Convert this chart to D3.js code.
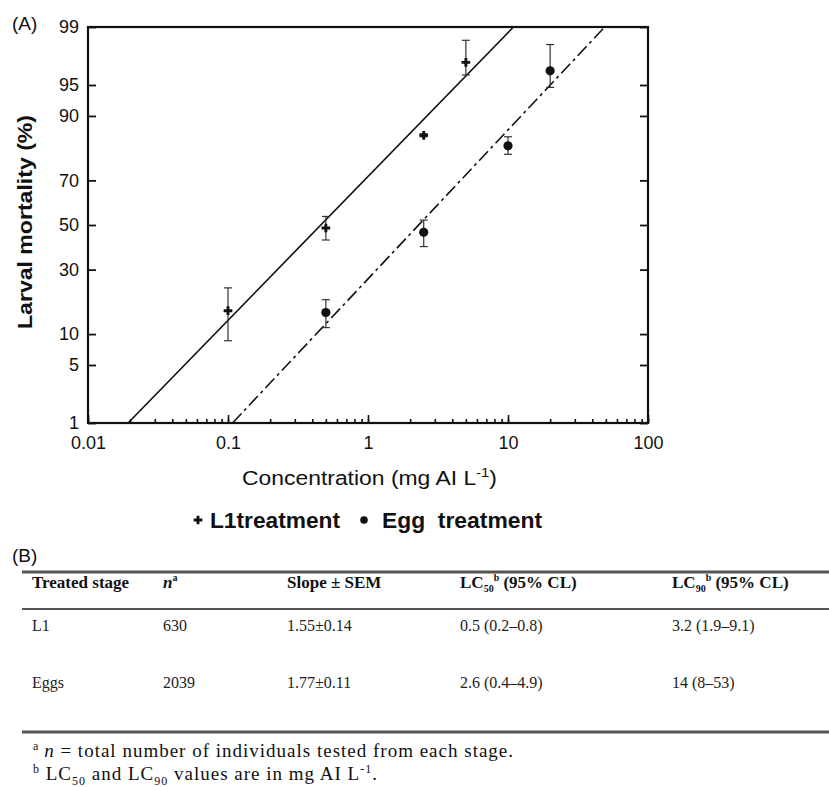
<!DOCTYPE html>
<html>
<head>
<meta charset="utf-8">
<script src="https://cdn.jsdelivr.net/npm/d3@7"></script>
<style>
body { margin: 0; background: #fff; }
svg text { font-family: "Liberation Sans", Arial, sans-serif; fill: #111; }
svg text.serif { font-family: "Liberation Serif", "Times New Roman", serif; }
</style>
</head>
<body>
<script>
const w = 829;
const h = 787;

// panel A: tick labels
const xTickLabels = ["0.01", "0.1", "1", "10", "100"];
const yTickLabels = [1, 5, 10, 30, 50, 70, 90, 95, 99];
const legendNames = ["L1treatment", "Egg  treatment"];

// L1 treatment (mortality %, with error bar ends)
const l1Conc = [0.1, 0.5, 2.5, 5];
const l1Mort = [15.7, 48.6, 85.4, 97.2];
const l1Low = [8.7, 43, 85.0, 96.1];
const l1High = [23, 54, 85.8, 98.5];

// Egg treatment
const eggConc = [0.5, 2.5, 10, 20];
const eggMort = [15.2, 46.6, 82.4, 96.5];
const eggLow = [11.4, 40, 79.7, 94.7];
const eggHigh = [19, 52.3, 85, 98.3];

// fitted probit lines as drawn (LC50, slope)
const fitLC50 = [0.46, 2.3];
const fitSlope = [1.69, 1.75];

// panel B: table
const stages = ["L1", "Eggs"];
const nTested = ["630", "2039"];
const slopes = ["1.55±0.14", "1.77±0.11"];
const lc50 = ["0.5 (0.2–0.8)", "2.6 (0.4–4.9)"];
const lc90 = ["3.2 (1.9–9.1)", "14 (8–53)"];

// inverse normal cdf (Acklam) for the probit axis
function probit(p) {
  const a = [-39.69683028665376, 220.9460984245205, -275.9285104469687, 138.3577518672690, -30.66479806614716, 2.506628277459239];
  const b = [-54.47609879822406, 161.5858368580409, -155.6989798598866, 66.80131188771972, -13.28068155288572];
  const c = [-0.007784894002430293, -0.3223964580411365, -2.400758277161838, -2.549732539343734, 4.374664141464968, 2.938163982698783];
  const d = [0.007784695709041462, 0.3224671290700398, 2.445134137142996, 3.754408661907416];
  const pl = 0.02425;
  let q, r;
  if (p < pl) {
    q = Math.sqrt(-2 * Math.log(p));
    return (((((c[0]*q+c[1])*q+c[2])*q+c[3])*q+c[4])*q+c[5]) / ((((d[0]*q+d[1])*q+d[2])*q+d[3])*q+1);
  }
  if (p > 1 - pl) {
    q = Math.sqrt(-2 * Math.log(1 - p));
    return -(((((c[0]*q+c[1])*q+c[2])*q+c[3])*q+c[4])*q+c[5]) / ((((d[0]*q+d[1])*q+d[2])*q+d[3])*q+1);
  }
  q = p - 0.5; r = q * q;
  return (((((a[0]*r+a[1])*r+a[2])*r+a[3])*r+a[4])*r+a[5])*q / (((((b[0]*r+b[1])*r+b[2])*r+b[3])*r+b[4])*r+1);
}

const pLeft = 88, pRight = 648, pTop = 27, pBottom = 423;

const svg = d3.select("body")
  .append("svg")
  .attr("width", w)
  .attr("height", h);

const x = d3.scaleLog()
  .domain([0.01, 100])
  .range([pLeft, pRight]);

const yz = d3.scaleLinear()
  .domain([probit(0.01), probit(0.99)])
  .range([pBottom, pTop]);
const y = (pct) => yz(probit(pct / 100));

// panel label
svg.append("text").attr("x", 12).attr("y", 30).style("font-size", "19px").text("(A)");

// minor and major ticks on the bottom, pointing in
svg.append("g")
  .attr("transform", "translate(0," + pBottom + ")")
  .call(d3.axisBottom(x).tickValues(x.ticks()).tickSize(-4).tickFormat(""))
  .call(g => g.select(".domain").remove())
  .call(g => g.selectAll("line").attr("stroke", "#111").attr("stroke-width", 1.6));

svg.append("g")
  .attr("transform", "translate(0," + pBottom + ")")
  .call(d3.axisBottom(x).tickValues(xTickLabels.map(Number)).tickSize(-8).tickPadding(13)
    .tickFormat((d, i) => xTickLabels[i]))
  .call(g => g.select(".domain").remove())
  .call(g => g.selectAll("line").attr("stroke", "#111").attr("stroke-width", 1.6))
  .call(g => g.selectAll("text").attr("fill", "#111").style("font-size", "18px")
    .style("font-family", "Liberation Sans, Arial, sans-serif"));

// y axis, left with labels, right without
svg.append("g")
  .attr("transform", "translate(" + pLeft + ",0)")
  .call(d3.axisLeft(yz).tickValues(yTickLabels.map(v => probit(v / 100))).tickSize(-8).tickPadding(9)
    .tickFormat((d, i) => yTickLabels[i]))
  .call(g => g.select(".domain").remove())
  .call(g => g.selectAll("line").attr("stroke", "#111").attr("stroke-width", 1.8))
  .call(g => g.selectAll("text").attr("fill", "#111").style("font-size", "18px")
    .style("font-family", "Liberation Sans, Arial, sans-serif"));

svg.append("g")
  .attr("transform", "translate(" + pRight + ",0)")
  .call(d3.axisRight(yz).tickValues(yTickLabels.map(v => probit(v / 100))).tickSize(-8).tickFormat(""))
  .call(g => g.select(".domain").remove())
  .call(g => g.selectAll("line").attr("stroke", "#111").attr("stroke-width", 1.8));

// frame
svg.append("rect")
  .attr("x", pLeft).attr("y", pTop)
  .attr("width", pRight - pLeft).attr("height", pBottom - pTop)
  .attr("fill", "none").attr("stroke", "#111").attr("stroke-width", 2.2);

// fitted lines, from 1% to 99%
const dashes = [null, "13,4,3,4"];
fitLC50.forEach((lc, i) => {
  const ends = [1, 99].map(p => [lc * Math.pow(10, probit(p / 100) / fitSlope[i]), p]);
  svg.append("line")
    .attr("x1", x(ends[0][0])).attr("y1", y(ends[0][1]))
    .attr("x2", x(ends[1][0])).attr("y2", y(ends[1][1]))
    .attr("stroke", "#111").attr("stroke-width", 1.6)
    .attr("stroke-dasharray", dashes[i]);
});

// error bars
function errorBars(conc, low, high) {
  const g = svg.append("g").attr("stroke", "#333").attr("stroke-width", 1.2);
  conc.forEach((c, i) => {
    g.append("line").attr("x1", x(c)).attr("x2", x(c)).attr("y1", y(low[i])).attr("y2", y(high[i]));
    [low[i], high[i]].forEach(v => {
      g.append("line").attr("x1", x(c) - 4).attr("x2", x(c) + 4).attr("y1", y(v)).attr("y2", y(v));
    });
  });
}
errorBars(l1Conc, l1Low, l1High);
errorBars(eggConc, eggLow, eggHigh);

// markers
const plus = d3.symbol().type(d3.symbolCross).size(42);
svg.selectAll(".l1pt")
  .data(l1Conc)
  .enter()
  .append("path")
  .attr("class", "l1pt")
  .attr("d", plus)
  .attr("transform", (d, i) => "translate(" + x(d) + "," + y(l1Mort[i]) + ")")
  .attr("fill", "#111");

svg.selectAll(".eggpt")
  .data(eggConc)
  .enter()
  .append("circle")
  .attr("class", "eggpt")
  .attr("cx", d => x(d))
  .attr("cy", (d, i) => y(eggMort[i]))
  .attr("r", 4.6)
  .attr("fill", "#111");

// axis titles
svg.append("text")
  .attr("transform", "translate(32,222) rotate(-90)")
  .attr("text-anchor", "middle")
  .attr("textLength", 214).attr("lengthAdjust", "spacingAndGlyphs")
  .style("font-size", "20px").style("font-weight", "bold")
  .text("Larval mortality (%)");

const xt = svg.append("text")
  .attr("x", 242).attr("y", 485)
  .attr("textLength", 255).attr("lengthAdjust", "spacingAndGlyphs")
  .style("font-size", "20px");
xt.append("tspan").text("Concentration (mg AI L");
xt.append("tspan").attr("dy", -8).style("font-size", "13px").text("-1");
xt.append("tspan").attr("dy", 8).text(")");

// legend
const lg = svg.append("g").attr("transform", "translate(0,528)");
lg.append("path").attr("d", plus).attr("transform", "translate(198,-8)").attr("fill", "#111");
lg.append("text").attr("x", 210).attr("textLength", 130).attr("lengthAdjust", "spacingAndGlyphs")
  .style("font-size", "22px").style("font-weight", "bold").text(legendNames[0]);
lg.append("circle").attr("cx", 364).attr("cy", -8).attr("r", 3.8).attr("fill", "#111");
lg.append("text").attr("x", 382).attr("textLength", 160).attr("lengthAdjust", "spacingAndGlyphs")
  .style("font-size", "22px").style("font-weight", "bold")
  .style("white-space", "pre").text(legendNames[1]);

// ---- panel B ----
svg.append("text").attr("x", 12).attr("y", 562).style("font-size", "19px").text("(B)");

const ruleYs = [572, 609, 732];
svg.selectAll(".rule")
  .data(ruleYs)
  .enter()
  .append("line")
  .attr("class", "rule")
  .attr("x1", 22).attr("x2", w)
  .attr("y1", d => d).attr("y2", d => d)
  .attr("stroke", "#555")
  .attr("stroke-width", d => d === 609 ? 2.2 : 2.8);

const colX = [32, 163, 287, 460, 672];
const headY = 588;

function headText(xp) {
  return svg.append("text").attr("class", "serif").attr("x", xp).attr("y", headY)
    .style("font-size", "17px").style("font-weight", "bold");
}
headText(colX[0]).text("Treated stage");
const hn = headText(colX[1]);
hn.append("tspan").style("font-style", "italic").text("n");
hn.append("tspan").attr("dy", -7).style("font-size", "10px").text("a");
headText(colX[2]).text("Slope ± SEM");
[["50", colX[3]], ["90", colX[4]]].forEach(([sub, xp]) => {
  const t = headText(xp);
  t.append("tspan").text("LC");
  t.append("tspan").attr("dy", 4).style("font-size", "10px").text(sub);
  t.append("tspan").attr("dy", -11).style("font-size", "10px").text("b");
  t.append("tspan").attr("dy", 7).text(" (95% CL)");
});

const rowY = [631, 688];
const cols = [stages, nTested, slopes, lc50, lc90];
cols.forEach((col, ci) => {
  svg.selectAll(".c" + ci)
    .data(col)
    .enter()
    .append("text")
    .attr("class", "serif c" + ci)
    .attr("x", colX[ci])
    .attr("y", (d, i) => rowY[i])
    .style("font-size", "16px")
    .style("fill", "#222")
    .text(d => d);
});

// footnotes
const f1 = svg.append("text").attr("class", "serif").attr("x", 33).attr("y", 757)
  .style("font-size", "19px").style("letter-spacing", "1px");
f1.append("tspan").attr("dy", -7).style("font-size", "12px").text("a");
f1.append("tspan").attr("dy", 7).style("font-style", "italic").text("\u2009n");
f1.append("tspan").text(" = total number of individuals tested from each stage.");

const f2 = svg.append("text").attr("class", "serif").attr("x", 33).attr("y", 780)
  .style("font-size", "19px").style("letter-spacing", "1px");
f2.append("tspan").attr("dy", -7).style("font-size", "12px").text("b");
f2.append("tspan").attr("dy", 7).text(" LC");
f2.append("tspan").attr("dy", 5).style("font-size", "12px").text("50");
f2.append("tspan").attr("dy", -5).text(" and LC");
f2.append("tspan").attr("dy", 5).style("font-size", "12px").text("90");
f2.append("tspan").attr("dy", -5).text(" values are in mg AI L");
f2.append("tspan").attr("dy", -7).style("font-size", "12px").text("-1");
f2.append("tspan").attr("dy", 7).text(".");
</script>
</body>
</html>
